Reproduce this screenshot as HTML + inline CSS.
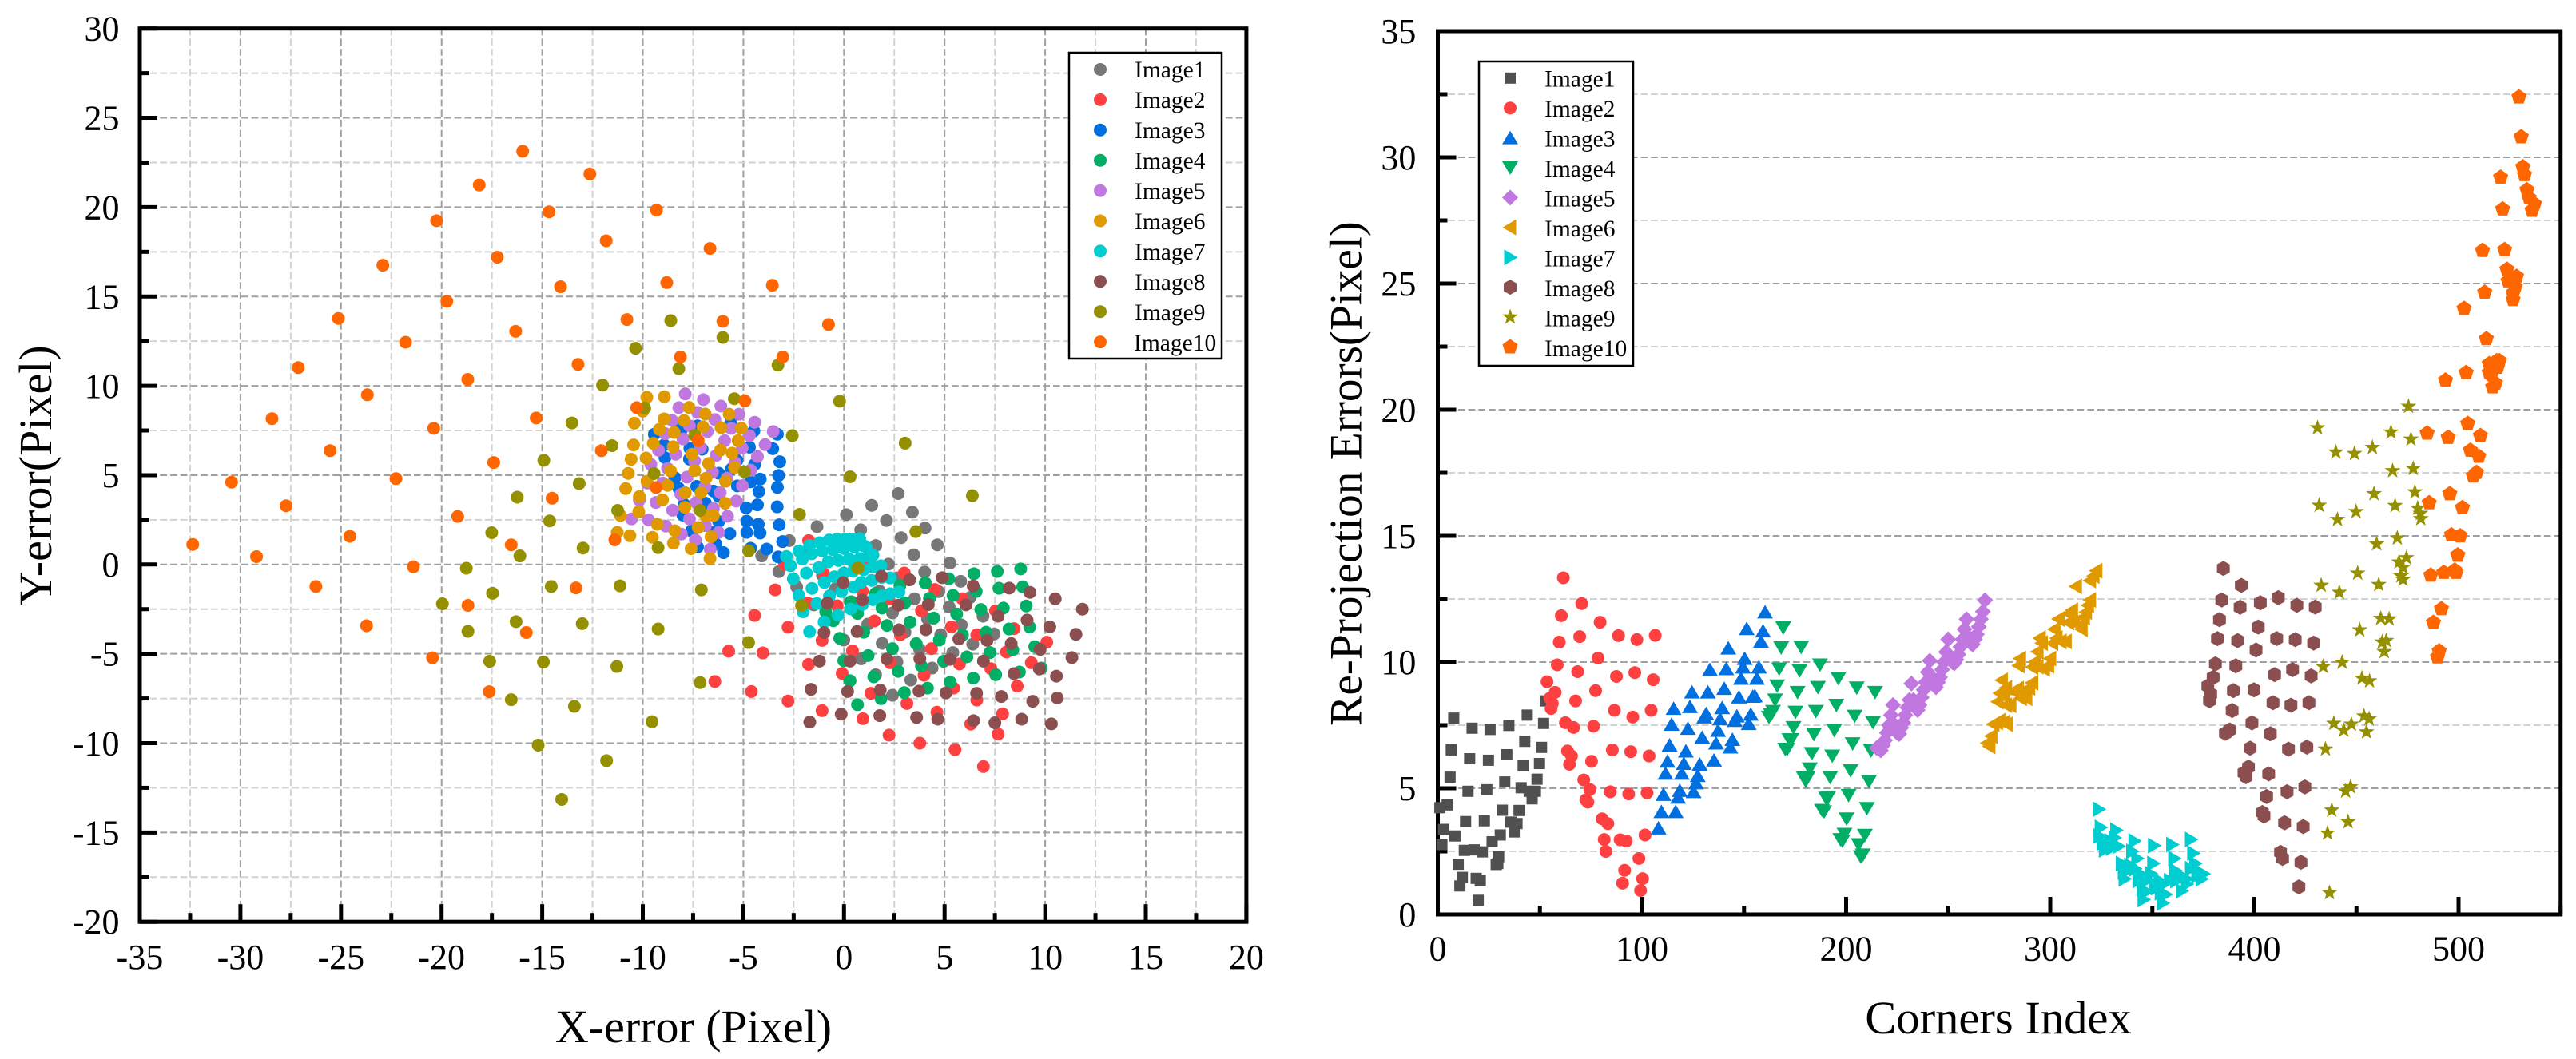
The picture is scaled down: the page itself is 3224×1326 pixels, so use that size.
<!DOCTYPE html>
<html lang="en">
<head>
<meta charset="utf-8">
<title>Re-projection error charts</title>
<style>
html,body{margin:0;padding:0;background:#fff;}
svg{display:block;}
text{font-family:"Liberation Serif",serif;fill:#000;}
.tick{font-size:44px;}
.title{font-size:58px;}
.leg{font-size:29.5px;}
</style>
</head>
<body>
<svg id="figure" xmlns="http://www.w3.org/2000/svg" width="3224" height="1326" viewBox="0 0 3224 1326">
<rect x="0" y="0" width="3224" height="1326" fill="#fff"/>
<g id="left-chart"></g>
<g id="right-chart"></g>
<text class="title" x="868" y="1305" text-anchor="middle">X-error (Pixel)</text>
<text class="title" transform="translate(64 595) rotate(-90)" text-anchor="middle">Y-error(Pixel)</text>
<text class="title" style="font-size:58.6px" x="2501" y="1294" text-anchor="middle">Corners Index</text>
<text class="title" style="font-size:57.3px" transform="translate(1703.5 593) rotate(-90)" text-anchor="middle">Re-Projection Errors(Pixel)</text>
<g id="left-legend">
<rect x="1338" y="66" width="191" height="383" fill="#fff" stroke="#000" stroke-width="2.5"/>
<text class="leg" x="1420" y="97">Image1</text>
<text class="leg" x="1420" y="135">Image2</text>
<text class="leg" x="1420" y="173">Image3</text>
<text class="leg" x="1420" y="211">Image4</text>
<text class="leg" x="1420" y="249">Image5</text>
<text class="leg" x="1420" y="287">Image6</text>
<text class="leg" x="1420" y="325">Image7</text>
<text class="leg" x="1420" y="363">Image8</text>
<text class="leg" x="1420" y="401">Image9</text>
<text class="leg" x="1419" y="439">Image10</text>
</g>
<g id="right-legend">
<rect x="1851" y="77" width="193" height="381" fill="#fff" stroke="#000" stroke-width="2.5"/>
<text class="leg" x="1933" y="108.5">Image1</text>
<text class="leg" x="1933" y="146">Image2</text>
<text class="leg" x="1933" y="183.5">Image3</text>
<text class="leg" x="1933" y="221">Image4</text>
<text class="leg" x="1933" y="258.5">Image5</text>
<text class="leg" x="1933" y="296">Image6</text>
<text class="leg" x="1933" y="333.5">Image7</text>
<text class="leg" x="1933" y="371">Image8</text>
<text class="leg" x="1933" y="408.5">Image9</text>
<text class="leg" x="1933" y="446">Image10</text>
</g>
</svg>
<script>
// ---------- Left chart data: X-error / Y-error (pixels) ----------
const errX1=[2.7,1.38,0.12,3.4,2.11,-1.34,0.83,4.03,2.84,-2.72,1.58,4.64,-4.09,3.47,5.27,2.21,-3.24,4.01,-2.35,5.8,4.7,-1.5,1.66,3.51,5.23,2.41,6.91,-0.24,6.27,4.15,5.83,1.18,3.03,7.46,4.81,6.4,1.9,-0.01,3.76,5.41,2.63,0.85,4.38,1.57,3.32,2.41,-1.87,0.52,-0.41,-1.54,-1.07,2.64,1.77,0.38];
const errY1=[3.97,3.31,2.79,2.93,2.46,2.12,1.94,2.04,1.5,1.34,1.06,1.1,0.48,0.54,0.08,0.02,-0.4,-0.42,-1.26,-0.94,-1.52,-2.26,-1.56,-1.92,-2.38,-2.71,-2.89,-1.36,-1.85,-3.04,-3.38,-3.34,-3.79,-3.89,-3.93,-4.46,-4.41,-4.23,-4.75,-4.93,-5.45,-5.28,-5.8,-6.17,-6.47,-7.32,0.67,0,-1.34,-2.24,-0.6,-0.75,-1.49,-2.09];
const errX2=[3,4.52,5.87,7.53,3.85,1.51,5.34,8.45,6.6,10.08,2.8,4.35,8.08,0.42,2.3,5.74,9.31,7.3,3.98,-0.09,5.45,8.61,1.34,6.6,3.13,4.62,7.88,0.94,6.3,2.24,7.66,3.77,5.52,6.93,-1.76,-3.42,-4.44,-2.78,-5.73,-4.03,-6.42,-4.6,-2.78,-1.09,-1.76,-1.09,-0.34,-1.01,-2.95,-1.8,0.91,1.1,2.24];
const errY2=[-0.48,-1.4,-1.92,-2.59,-2.59,-3.16,-3.49,-3.59,-3.93,-4.35,-3.93,-4.71,-4.9,-4.83,-5.5,-5.57,-5.5,-5.83,-6.2,-6.1,-6.92,-6.81,-7.21,-7.59,-7.78,-8.27,-8.36,-8.63,-8.93,-9.55,-9.49,-10,-10.36,-11.31,1.34,-1.42,-2.85,-3.51,-4.85,-4.95,-6.55,-7.11,-7.64,-8.18,-5.59,-4.25,-2.31,-0.52,0,-2.16,-1.49,0.22,-1.94];
const errX3=[-3.31,-4.48,-5.7,-9.43,-3.54,-4.7,-7.66,-8.94,-7.05,-8.9,-7.68,-3.19,-5.32,-4.44,-5.59,-6.23,-3.25,-4.16,-8.41,-7.32,-3.31,-8.21,-5.3,-4.23,-6.49,-6.23,-4.3,-4.86,-3.32,-6.89,-8.01,-7.95,-3.22,-4.83,-4.26,-6.23,-4.83,-4.17,-5.67,-7.58,-6.49,-3.05,-6.36,-4.64,-3.84,-5.99,-3.27,-7.28,-8.28,-7.28,-8.08,-5.63,-7.02,-4.64];
const errY3=[7.29,7.47,7.69,7.29,6.48,6.57,6.5,6.69,6.45,5.98,5.9,5.75,5.83,5.6,5.35,5.11,4.98,4.78,4.86,4.37,4.32,4.26,4.4,4.08,4.11,3.82,3.34,3.17,3.23,3.44,2.77,3.37,2.22,2.43,2.25,2.4,1.8,1.76,1.73,1.88,1.8,1.28,1.13,0.91,0.86,0.66,0.42,0.98,7.62,7.76,7.54,7.91,3.44,4.63];
const errX4=[6.46,7.62,8.78,5.21,4.04,7.7,8.88,6.57,2.78,5.42,4.25,7.92,9.06,6.8,3.03,5.6,1.57,0.32,1.89,3.29,4.46,0.67,2.14,8.2,9.23,0.98,5.89,7.06,3.59,4.74,-0.21,8.39,9.48,7.26,2.41,6.11,1.2,4.95,-0.01,3.85,9.8,8.72,2.7,7.54,6.43,1.48,0.3,5.28,4.15,3,1.84,0.67,-0.91,-0.53];
const errY4=[-0.52,-0.39,-0.25,-0.8,-1.03,-1.33,-1.25,-1.51,-1.18,-1.73,-1.89,-2.44,-2.32,-2.52,-2.15,-2.77,-1.62,-2.1,-2.44,-3.22,-3,-2.74,-3.41,-3.61,-3.5,-3.79,-3.95,-3.79,-4.43,-4.23,-4.13,-4.78,-4.6,-4.93,-4.71,-5.17,-5.1,-5.42,-5.39,-5.68,-5.8,-6.02,-5.98,-6.17,-6.36,-6.29,-6.51,-6.59,-6.92,-7.17,-7.51,-7.85,-2.65,-3.15];
const errX5=[-7.89,-6.99,-8.21,-6.12,-7.28,-5.22,-6.42,-4.44,-8.54,-7.68,-6.79,-5.6,-3.52,-4.7,-8.89,-8,-5.93,-3.92,-5.06,-7.13,-9.22,-8.37,-6.36,-4.3,-9.6,-7.43,-5.42,-4.64,-8.77,-6.54,-5.81,-7.81,-5.05,-9.77,-9.01,-6.91,-6.15,-8.11,-10.17,-9.35,-7.35,-5.35,-6.49,-8.52,-5.79,-10.56,-7.68,-9.72,-6.89,-8.86,-6.23,-8.08,-7.39,-6.65];
const errY5=[9.55,9.23,8.78,8.87,8.51,8.41,8.11,7.96,8.06,7.76,7.44,7.62,7.44,7.21,7.32,7.02,6.93,6.71,6.51,6.54,6.39,6.17,6.1,6.04,5.6,5.8,5.72,5.28,5.38,5.16,4.83,4.89,4.41,4.56,4.56,4.34,4.02,3.93,3.61,3.47,3.47,3.55,3.14,3.04,2.7,2.55,2.55,2.5,2.18,2.15,1.8,1.7,1.37,0.85];
const errX6=[-9.8,-8.93,-7.7,-6.9,-5.71,-10.42,-10,-8.94,-7.95,-7.01,-6.11,-5.1,-9.18,-8.44,-5.26,-9.48,-8.49,-10.46,-6.13,-5.56,-7.56,-10.58,-9.84,-6.73,-5.44,-10.72,-8.62,-7.42,-6.86,-5.89,-9.79,-8.77,-10.85,-7.89,-7.11,-10.17,-9.02,-5.91,-10.2,-7.91,-6.49,-6.89,-11.11,-9.28,-7.25,-8.41,-11.27,-10.64,-6.61,-9.52,-8.48,-7.6,-6.66];
const errY6=[9.36,9.39,8.79,8.42,8.41,7.91,8.58,8.15,8.06,7.7,7.66,7.63,7.56,7.39,6.93,6.78,6.59,6.69,6.41,6.23,6.17,5.89,5.96,5.65,5.42,5.1,5.23,5.26,4.83,4.66,4.66,4.43,4.25,4.02,4.02,3.8,3.62,3.43,2.95,3.2,2.74,2.74,2.74,2.25,2.07,1.89,1.8,1.61,1.55,1.52,1.19,0.88,0.33];
const errX7=[-1.71,-0.99,-0.3,0.33,0.91,1.44,1.88,2.3,2.73,-2.03,-1.35,-0.72,-0.12,0.48,0.85,1.38,1.87,2.3,-2.24,-1.59,-0.98,-0.48,-0.01,0.45,0.98,1.44,1.84,-2.52,-1.87,-1.26,-0.78,-0.28,0.25,0.78,1.25,1.44,-2.66,-2.07,-1.6,-1.07,-0.54,-0.01,0.52,0.98,-2.86,-2.24,-1.71,-1.21,-0.74,-0.34,0.05,0.38,0.78,1.11];
const errY7=[-3.76,-3.22,-2.83,-2.49,-2.24,-1.97,-1.76,-1.64,-1.54,-2.65,-2.19,-1.76,-1.52,-1.27,-1.01,-0.89,-0.72,-0.75,-1.73,-1.34,-1.01,-0.69,-0.48,-0.37,-0.3,-0.15,-0.07,-0.8,-0.48,-0.18,0.15,0.22,0.3,0.33,0.45,0.52,-0.07,0.3,0.6,0.75,0.82,0.89,0.97,1.04,0.45,0.75,1.07,1.22,1.37,1.42,1.42,1.42,1.45,0.97];
const errX8=[1.86,-0.04,3.26,4.88,6.42,8.21,9.24,10.5,11.85,-0.83,0.91,2.7,4.19,6.06,7.66,9.1,10.23,11.53,-0.99,0.65,2.74,4.07,5.71,7.11,8.31,9.75,11.33,-1.22,0.3,2.13,3.77,5.27,6.93,8.45,9.71,10.56,-1.64,0.18,1.8,3.73,5.07,6.59,7.82,9.38,10.6,-1.7,-0.14,1.78,3.61,4.66,6.44,7.5,8.83,10.31];
const errY8=[-0.66,-1.02,-0.86,-0.74,-1.2,-1.32,-1.56,-1.92,-2.5,-2.16,-1.98,-2.28,-2.24,-2.26,-2.89,-3.11,-3.49,-3.91,-3.81,-3.75,-3.65,-3.65,-4.17,-4.25,-4.43,-4.75,-5.21,-5.41,-5.41,-5.29,-5.27,-5.31,-5.41,-6.11,-5.85,-6.25,-6.99,-7.11,-7.03,-7.09,-7.19,-7.21,-7.39,-7.66,-7.47,-8.82,-8.38,-8.46,-8.56,-8.66,-8.74,-8.86,-8.66,-8.92];
const errX9=[-10.36,-12,-13.52,-11.53,-14.92,-13.16,-16.24,-11.25,-14.63,-17.51,-12.97,-16.11,-18.77,-14.55,-11.13,-17.47,-19.96,-16.3,-13.01,-18.69,-17.61,-14.94,-11.29,-16.54,-13.4,-15.2,-11.8,-14.03,-8.61,-6.02,-8.21,-3.28,-5.45,-0.22,-9.91,-2.57,3.04,-7.42,0.3,-4.94,-9.44,6.38,-7.15,-2.21,3.57,-9.24,-4.74,0.69,-7.09,-2.11,-9.24,-4.74,-7.15,-9.54];
const errY9=[12.1,10.04,7.92,6.65,5.83,4.53,3.77,3.03,2.44,1.78,0.92,0.48,-0.21,-1.23,-1.2,-1.61,-2.2,-3.2,-3.31,-3.74,-5.42,-5.46,-5.71,-7.57,-7.94,-10.11,-10.98,-13.15,13.65,12.71,10.96,11.16,9.28,9.14,8.76,7.21,6.79,7.23,4.91,5.19,5.09,3.85,3.03,2.81,1.84,0.94,0.76,-0.2,-1.42,-2.3,-3.61,-4.37,-6.61,-8.8];
const errX10=[-32.37,-30.44,-29.2,-27.73,-28.43,-27.12,-25.54,-25.13,-24.56,-23.69,-22.92,-22.27,-21.79,-21.4,-20.39,-20.25,-19.74,-19.2,-18.7,-18.13,-17.41,-17.23,-16.54,-16.32,-15.97,-15.3,-14.66,-14.51,-14.09,-13.22,-12.63,-12.06,-11.82,-11.39,-10.79,-10.3,-26.25,-23.73,-20.45,-18.69,-17.63,-15.79,-13.32,-6.02,-0.77,-8.13,-3.04,-4.92,-7.25,-9.34,-9.32,-6.66,-8.81,-3.56];
const errY10=[1.12,4.61,0.44,3.29,8.16,11.02,6.37,13.77,1.58,9.5,16.75,4.81,12.44,-0.13,7.62,19.24,14.73,2.69,10.36,21.24,5.71,17.2,1.1,13.05,23.13,8.2,19.74,3.71,15.55,11.2,21.86,6.37,18.12,1.38,13.71,8.78,-1.23,-3.43,-5.22,-2.29,-7.12,-3.81,-1.31,13.61,13.43,11.62,11.62,9.16,6.93,4.31,19.84,17.69,15.78,15.63];

// ---------- Right chart data: corner index / re-projection error (pixels) ----------
const cornerIdx1=[1,2,2.8,4.6,6,6.6,7.8,8.4,10,10.8,12,13,13.6,14.8,15.6,16.8,17.8,18.8,19.8,20.8,21.8,22.8,24,24.8,25.6,26.6,28.6,29.8,30.6,31.6,32.8,33.8,34.8,35.8,37.4,38.8,39.8,40.8,41.8,42.6,43.8,44.8,46.2,47.8,48.6,49.8,50.8,51.8,52.8,29.4];
const reproj1=[4.23,2.77,3.37,4.34,5.44,6.52,7.78,3.11,1.99,1.13,1.47,2.54,3.68,4.88,6.17,7.38,2.56,1.43,0.56,1.34,2.48,3.71,4.94,6.11,7.33,2.88,1.98,2.29,3.15,4.13,5.25,6.33,7.49,3.66,3.27,3.6,4.12,5.02,5.89,6.86,7.9,4.88,4.58,4.88,5.36,5.98,6.62,7.57,8.46,2.02];
const cornerIdx2=[53.5,54.9,55.5,56.1,57.5,58.5,59.5,60.5,61.5,62.5,63.5,64.5,65.5,66.5,67.5,68.5,69.5,70.5,71.5,72.5,73.5,74.5,75.3,76.3,77.3,78.5,79.5,80.5,81.5,82.3,83.3,84.5,85.5,86.5,87.5,88.5,89.3,90.5,91.5,92.3,93.5,94.5,95.5,96.5,97.5,98.5,99.3,100.3,101.5,102.5,103.5,104.5,105.5,106.5];
const reproj2=[9.22,8.57,8.16,8.36,8.8,9.89,10.79,11.84,13.34,7.6,6.48,5.95,6.28,7.41,8.46,9.62,11.01,12.32,5.33,4.54,4.45,4.95,6.07,7.46,8.87,10.16,11.58,3.79,2.97,2.5,3.6,4.86,6.52,8.09,9.43,11.05,2.96,1.24,1.75,2.91,4.77,6.45,7.82,9.58,10.89,2.22,0.95,1.42,3.15,4.82,6.28,8.09,9.3,11.06];
const cornerIdx3=[108.1,109.5,110.5,111.5,112.5,113.5,114.5,115.5,116.5,117.7,118.5,119.5,120.5,121.5,122.5,123.5,124.5,125.3,126.5,127.3,128.3,129.5,130.5,131.5,132.3,133.3,135.3,136.3,137.3,138.3,139.3,140.3,141.3,142.3,143.3,144.3,145.5,146.5,147.5,148.5,149.5,150.3,151.3,152.3,153.3,154.3,155.3,156.3,157.3,158.3,159.3,160.3];
const reproj3=[3.42,4.07,4.75,5.59,6.07,6.71,7.53,8.16,4.07,4.64,4.91,5.59,5.98,6.47,7.37,8.23,8.81,4.86,5.21,5.5,5.95,7.01,7.82,7.95,8.81,9.7,6.11,6.79,7.29,7.75,8.19,8.95,9.73,10.55,6.63,6.93,7.68,7.86,8.61,9.35,9.8,10.14,11.32,7.56,7.93,8.64,8.66,9.35,9.8,10.82,11.23,11.98];
const cornerIdx4=[162.2,163.2,164.2,165.2,166.2,167.2,168.2,169.2,170.2,171.2,172.2,173.2,174.2,175.2,176.2,177.2,178,179.2,180.2,181.2,182.2,183.2,184.2,185.2,186.2,187.2,188.2,189.2,190.2,191.2,192.2,193.2,194.2,195.2,196.2,197.2,198.2,199.2,200.2,201.2,202.2,203.2,204.2,205.2,206.2,207.2,208.2,209.2,210.2,211.2,212.2,213.2,214.2];
const reproj4=[7.82,7.91,8.05,8.5,9.06,9.73,10.57,11.36,6.55,6.55,6.93,6.93,7.41,8.02,8.8,9.66,10.59,5.43,5.29,5.43,5.77,6.38,7.14,8.05,9,9.89,4.13,4.07,4.61,4.64,5.43,6.28,7.3,8.29,9.35,2.97,2.91,3.18,3.79,4.72,5.7,6.77,7.86,8.98,2.77,2.29,2.36,3.14,4.2,5.27,6.49,7.61,8.8];
const cornerIdx5=[215,216,217,218,219,220,221,222,223,224,225,226,227,228,229,230,231,232,233,234,235,236,237,238,239,240,241,242,243,244,245,246,247,248,249,250,251,252,253,254,255,256,257,258,259,260,261,262,263,264,265,266,267,268];
const reproj5=[6.6,6.65,6.5,6.7,6.9,7.2,7.5,7.9,8.3,7.5,7.2,7.15,7.4,7.6,7.9,8.2,8.5,9.15,8.5,8.2,8.1,8.3,8.6,8.9,9.2,9.6,10.05,9.4,9.1,9,9.2,9.4,9.7,10,10.4,10.9,10.2,10,9.95,10.1,10.3,10.6,10.9,11.3,11.7,11,10.75,10.7,10.9,11.1,11.4,11.7,12,12.45];
const cornerIdx6=[269.1,270.2,271.2,272.2,273.9,275.3,277.4,278.8,274.3,275.3,276.3,278.4,280.5,282.1,284.2,285.6,288.3,289.7,291.2,284.6,285.2,292.4,293.8,294.9,296.9,299,300,302.1,304.1,305.1,307.6,308.8,310.7,312.6,314.4,316.5,318.5,319.5,322.6,321.2,291.2,293.8,295.9,301,303.1,309.3,311.7,315.4,317.5,319.5,278.4,287.7,277.4];
const reproj6=[6.79,6.66,7.07,7.54,7.61,7.68,7.61,7.54,8.43,8.77,9.28,8.29,8.29,8.84,8.95,8.57,8.57,8.98,9.18,9.86,10.14,10,10.41,10.95,9.73,9.86,10.14,11.3,11.71,10.82,10.82,11.57,12.05,13,11.43,11.77,12.25,13.23,13.62,13.41,9.8,9.82,10.75,10.75,10.95,11.91,11.57,11.3,11.98,12.46,8.98,8.84,8.64];
const cornerIdx7=[323.7,324.7,324.1,325.7,326.7,330.2,331.5,332.3,333.5,335,336,336.4,338,340.1,341.2,341.6,342.6,343.2,344.2,345.3,345.7,347.3,349.4,350.4,350.8,353.5,354.1,355.1,356.6,358.6,359.7,360.7,361.1,361.7,364.4,364.8,366.9,368.9,370,371,372,375.1,373.5,327.8,329.4,339.1,346.3,352.1,362.8,366.9,368.9,374.1,351.4,355.6];
const reproj7=[4.17,3.45,3.11,2.84,2.56,2.63,3.04,3.34,2.7,2.02,1.68,1.41,1.75,2.5,2.91,1.81,2.22,1.34,1.61,1,0.59,1.34,1.61,2.02,2.73,1.34,0.86,0.45,0.79,1.34,2.77,2.22,1.75,1.34,0.93,1.47,1.2,2.97,2.43,2.02,1.54,1.61,1.64,2.77,2.91,1.95,0.86,1.06,1.61,1.41,1.81,1.41,1.2,1.2];
const cornerIdx8=[384.8,393.6,384,382.9,393,402.9,411.7,420.8,429.8,381.9,391.8,401.9,410.9,420,429,380.9,390.9,400.8,409.9,418.7,427.8,379.8,377.2,378.6,378,389.7,399.8,409.1,417.9,426.7,389.1,398.8,387.9,385.8,407.8,397.9,416.7,425.7,397.1,394.9,395.9,407,416,424.7,406,403.9,404.7,414.8,423.9,412.8,413.8,422.8,421.8];
const reproj8=[13.71,13.04,12.46,11.68,12.17,12.35,12.55,12.25,12.18,10.93,10.85,11.39,10.93,10.89,10.75,9.93,9.85,10.48,9.5,9.7,9.45,9.39,9.05,8.73,8.47,8.87,8.9,8.39,8.29,8.39,8.08,7.59,7.31,7.18,7.16,6.59,6.55,6.63,5.84,5.61,5.46,5.57,4.86,5.05,4.67,4.04,3.9,3.63,3.48,2.46,2.22,2.07,1.09];
const cornerIdx9=[436.8,435.8,445.9,437.9,444.7,447.1,434.8,454.9,443.8,447.5,438.9,453.7,456.2,452.7,456.4,433.7,443,464.6,462.6,463.6,451.6,461.9,466,460.9,441.6,432.7,450.6,472.8,471.8,472.8,470.8,474.5,459.9,470,431.7,440.7,449.8,458.6,468.9,478.6,480,481.3,481.5,467.7,477.8,439.9,449,457.8,476.7,466.9,430.9,475.5];
const reproj9=[0.86,3.22,3.67,4.13,4.88,5.05,6.55,7.23,7.3,7.54,7.57,7.86,7.75,9.36,9.25,9.82,9.99,10.85,10.79,10.41,11.27,11.73,11.71,13.07,12.76,13.04,13.52,13.27,13.41,13.75,13.96,14.13,14.68,14.91,16.21,15.65,15.96,16.67,16.2,16.74,16.1,15.89,15.68,17.58,17.67,18.32,18.26,18.5,18.83,19.11,19.28,20.13];
const cornerIdx10=[486.4,492.8,498.1,498.8,499.6,491.6,487.7,490.5,489.7,529.6,530.7,531.5,532.3,520.6,533.5,534.6,537.2,521.6,536,511.7,522.6,523.7,528.4,524.3,512.8,526.7,526.7,502.7,513.6,520,515,519.1,503.7,516,493.6,518.1,516.7,504.5,484.6,494.9,510.7,505.8,509.9,508.8,507.2,495.7,485.6,501.9,496.5,500.8,499.6,515,518.7,527.8];
const reproj10=[13.44,13.55,13.64,13.55,14.23,12.11,11.57,10.44,10.2,32.39,30.81,29.62,29.31,29.21,28.71,28.39,28.15,27.95,27.9,26.31,26.34,25.56,25.28,25.1,24.65,24.62,24.36,24.01,22.81,21.94,21.82,21.68,21.47,21.4,21.17,21.05,20.9,19.45,19.07,18.9,18.97,18.39,18.15,17.51,17.37,16.67,16.31,16.12,15.04,15,14.24,21.47,21.94,24.86];

// ---------- Tick labels ----------
const leftXTicks=[-35,-30,-25,-20,-15,-10,-5,0,5,10,15,20];
const leftYTicks=[-20,-15,-10,-5,0,5,10,15,20,25,30];
const rightXTicks=[0,100,200,300,400,500];
const rightYTicks=[0,5,10,15,20,25,30,35];

const seriesNames=['image1','image2','image3','image4','image5','image6','image7','image8','image9','image10'];
const leftColors=['#777777','#ff4040','#0070e0','#00ae66','#c078e0','#e09a00','#00cdd0','#8b4f4f','#949000','#ff6600'];
const rightColors=['#505050','#ff4040','#0070e0','#00ae66','#c078e0','#e09a00','#00cdd0','#8b4f4f','#949000','#ff6600'];
const rightShapes=['square','circle','up','down','diamond','left','right','hexagon','star','pentagon'];

const leftXSeries=[errX1,errX2,errX3,errX4,errX5,errX6,errX7,errX8,errX9,errX10];
const leftYSeries=[errY1,errY2,errY3,errY4,errY5,errY6,errY7,errY8,errY9,errY10];
const rightXSeries=[cornerIdx1,cornerIdx2,cornerIdx3,cornerIdx4,cornerIdx5,cornerIdx6,cornerIdx7,cornerIdx8,cornerIdx9,cornerIdx10];
const rightYSeries=[reproj1,reproj2,reproj3,reproj4,reproj5,reproj6,reproj7,reproj8,reproj9,reproj10];

// ---------- Axis functions ----------
function leftX(v){return 175+(v+35)*25.18;}
function leftY(v){return 35.7+(30-v)*22.37;}
function rightX(v){return 1799.5+v*2.555;}
function rightY(v){return 1145-v*31.6;}

const NS='http://www.w3.org/2000/svg';
function make(tag,attrs,parent){
  const el=document.createElementNS(NS,tag);
  for(const k in attrs){el.setAttribute(k,attrs[k]);}
  parent.appendChild(el);
  return el;
}
function regular(n,r,start){
  const pts=[];
  for(let i=0;i<n;i++){const a=start+i*2*Math.PI/n;pts.push([r*Math.cos(a),r*Math.sin(a)]);}
  return pts;
}
function starPts(R,r){
  const pts=[];
  for(let i=0;i<10;i++){const a=-Math.PI/2+i*Math.PI/5;const q=i%2?r:R;pts.push([q*Math.cos(a),q*Math.sin(a)]);}
  return pts;
}
const shapeOutlines={
  up:[[0,-9],[10,8],[-10,8]],
  down:[[0,9],[10,-8],[-10,-8]],
  left:[[-9.5,0],[7.5,-10],[7.5,10]],
  right:[[9.5,0],[-7.5,-10],[-7.5,10]],
  diamond:[[0,-10],[10,0],[0,10],[-10,0]],
  hexagon:[[0,-9.5],[8,-5],[8,5],[0,9.5],[-8,5],[-8,-5]],
  pentagon:regular(5,10,-Math.PI/2),
  star:starPts(10.5,4.2)
};
function drawMark(parent,shape,cx,cy,color){
  if(shape==='circle'){return make('circle',{cx:cx,cy:cy,r:8,fill:color},parent);}
  if(shape==='square'){return make('rect',{x:cx-7,y:cy-7,width:14,height:14,fill:color},parent);}
  const pts=shapeOutlines[shape].map(p=>(cx+p[0]).toFixed(2)+','+(cy+p[1]).toFixed(2)).join(' ');
  return make('polygon',{points:pts,fill:color},parent);
}
function hGrid(parent,x1,x2,y,major){
  const l=make('line',{x1:x1,x2:x2,y1:y,y2:y,stroke:major?'#a0a0a0':'#d2d2d2','stroke-width':2,'stroke-dasharray':'8.7 4'},parent);
  
  
}
function vGrid(parent,y1,y2,x,major){
  const l=make('line',{x1:x,x2:x,y1:y1,y2:y2,stroke:major?'#a0a0a0':'#d2d2d2','stroke-width':2,'stroke-dasharray':'8.7 4'},parent);
  
  
}
function tickMark(parent,x1,y1,x2,y2){
  const l=make('line',{x1:x1,y1:y1,x2:x2,y2:y2,stroke:'#000','stroke-width':5},parent);
  
  
}
function tickLabel(parent,x,y,anchor,str){
  const t=make('text',{x:x,y:y,'text-anchor':anchor,'class':'tick'},parent);
  t.textContent=str;
  
  
}
function frame(parent,x1,y1,x2,y2){
  const r=make('rect',{x:x1,y:y1,width:x2-x1,height:y2-y1,fill:'none',stroke:'#000','stroke-width':5},parent);
  
  
}

// ---------- Left chart ----------
const leftG=document.getElementById('left-chart');
const L0=leftX(leftXTicks[0]),L1=leftX(leftXTicks[leftXTicks.length-1]);
const B0=leftY(leftYTicks[0]),T0=leftY(leftYTicks[leftYTicks.length-1]);
leftXTicks.forEach((v,i)=>{
  if(i>0&&i<leftXTicks.length-1){vGrid(leftG,T0,B0,leftX(v),true);}
  if(i<leftXTicks.length-1){vGrid(leftG,T0,B0,leftX(v+2.5),false);}
});
leftYTicks.forEach((v,i)=>{
  if(i>0&&i<leftYTicks.length-1){hGrid(leftG,L0,L1,leftY(v),true);}
  if(i<leftYTicks.length-1){hGrid(leftG,L0,L1,leftY(v+2.5),false);}
});
leftXTicks.forEach((v,i)=>{
  const x=leftX(v);
  tickMark(leftG,x,B0,x,B0-22);
  if(i<leftXTicks.length-1){tickMark(leftG,leftX(v+2.5),B0,leftX(v+2.5),B0-11);}
  tickLabel(leftG,x,1213,'middle',String(v));
});
leftYTicks.forEach((v,i)=>{
  const y=leftY(v);
  tickMark(leftG,L0,y,L0+22,y);
  if(i<leftYTicks.length-1){tickMark(leftG,L0,leftY(v+2.5),L0+12,leftY(v+2.5));}
  tickLabel(leftG,149.5,y+15,'end',String(v));
});
frame(leftG,L0,T0,L1,B0);
leftXSeries.forEach((xs,s)=>{
  const g=make('g',{},leftG);
  
  
  xs.forEach((xv,i)=>{
    const m=drawMark(g,'circle',leftX(xv),leftY(leftYSeries[s][i]),leftColors[s]);
    
    
  });
});

// ---------- Right chart ----------
const rightG=document.getElementById('right-chart');
const R0=rightX(0),R1=rightX(550);
const RB=rightY(rightYTicks[0]),RT=rightY(rightYTicks[rightYTicks.length-1]);
rightYTicks.forEach((v,i)=>{
  if(i>0&&i<rightYTicks.length-1){hGrid(rightG,R0,R1,rightY(v),true);}
  if(i<rightYTicks.length-1){hGrid(rightG,R0,R1,rightY(v+2.5),false);}
});
rightXTicks.forEach((v)=>{
  const x=rightX(v);
  tickMark(rightG,x,RB,x,RB-22);
  tickMark(rightG,rightX(v+50),RB,rightX(v+50),RB-11);
  tickLabel(rightG,x,1202.6,'middle',String(v));
});
rightYTicks.forEach((v,i)=>{
  const y=rightY(v);
  tickMark(rightG,R0,y,R0+23,y);
  if(i<rightYTicks.length-1){tickMark(rightG,R0,rightY(v+2.5),R0+12,rightY(v+2.5));}
  tickLabel(rightG,1772.4,y+15,'end',String(v));
});
frame(rightG,R0,RT,R1,RB);
rightXSeries.forEach((xs,s)=>{
  const g=make('g',{},rightG);
  
  
  xs.forEach((xv,i)=>{
    const m=drawMark(g,rightShapes[s],rightX(xv),rightY(rightYSeries[s][i]),rightColors[s]);
    
    
  });
});

// ---------- Legend swatches ----------
const leftLegend=document.getElementById('left-legend');
const rightLegend=document.getElementById('right-legend');
seriesNames.forEach((n,i)=>{
  const a=drawMark(leftLegend,'circle',1377,87+i*37.9,leftColors[i]);
  
  
  const b=drawMark(rightLegend,rightShapes[i],1890,97.8+i*37.4,rightColors[i]);
  
  
});
</script>
</body>
</html>
